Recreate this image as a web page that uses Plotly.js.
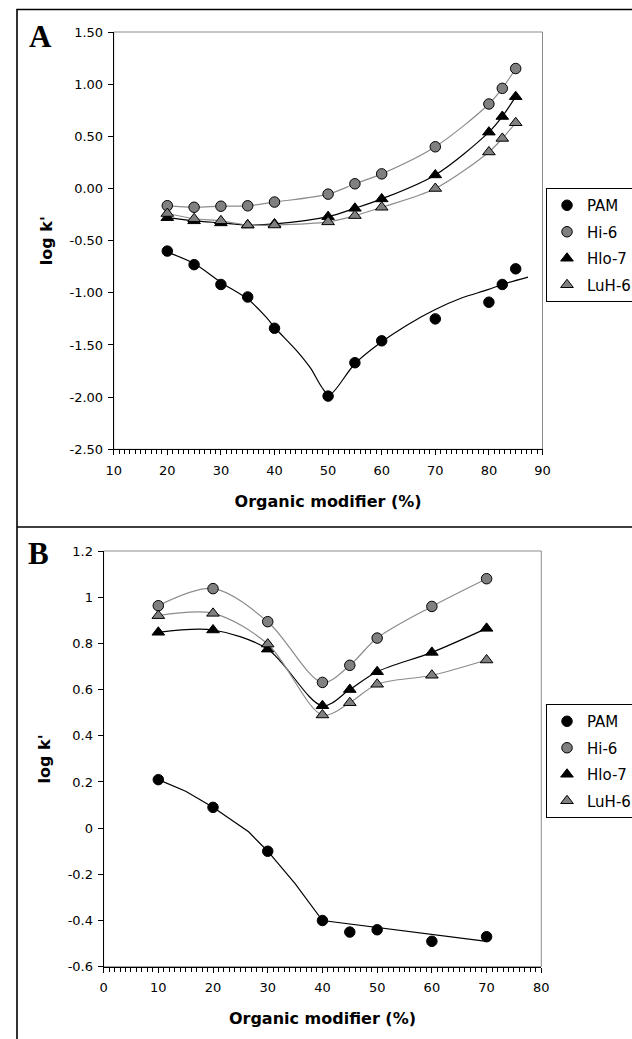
<!DOCTYPE html>
<html>
<head>
<meta charset="utf-8">
<script src="https://cdn.plot.ly/plotly-3.0.1.min.js"></script>
<style>
  html, body { margin: 0; padding: 0; background: #ffffff; overflow: hidden; width: 632px; height: 1039px; }
  #wrap { width: 632px; height: 1039px; overflow: hidden; position: relative; }
  #chart { width: 680px; height: 1039px; }
</style>
</head>
<body>
<div id="wrap"><div id="chart"></div></div>
<script>
// ---------- Data: panel A ----------
const seriesNames = ["PAM", "Hi-6", "Hlo-7", "LuH-6"];

const xA = [20, 25, 30, 35, 40, 50, 55, 60, 70, 80, 82.5, 85];
const pamA  = [-0.60, -0.73, -0.92, -1.04, -1.34, -1.99, -1.67, -1.46, -1.25, -1.09, -0.92, -0.77];
const hi6A  = [-0.165, -0.18, -0.17, -0.166, -0.13, -0.054, 0.045, 0.14, 0.40, 0.81, 0.96, 1.15];
const hlo7A = [-0.28, -0.31, -0.33, -0.35, -0.34, -0.27, -0.19, -0.10, 0.13, 0.54, 0.69, 0.88];
const luh6A = [-0.24, -0.29, -0.31, -0.35, -0.35, -0.32, -0.26, -0.18, 0.00, 0.35, 0.48, 0.63];

// PAM trend curve in panel A
const pamFitXA = [20, 25, 30, 35, 38.4, 40, 44.4, 46.7, 48.9, 50.2, 55, 60, 64.7, 70, 74.9, 79.8, 82.5, 87.3];
const pamFitYA = [-0.61, -0.72, -0.90, -1.06, -1.23, -1.33, -1.57, -1.72, -1.91, -1.98, -1.68, -1.47, -1.31, -1.16, -1.05, -0.97, -0.92, -0.85];

// ---------- Data: panel B ----------
const xB = [10, 20, 30, 40, 45, 50, 60, 70];
const pamB  = [0.21, 0.09, -0.10, -0.40, -0.45, -0.44, -0.49, -0.47];
const hi6B  = [0.963, 1.037, 0.894, 0.631, 0.705, 0.823, 0.96, 1.08];
const hlo7B = [0.848, 0.858, 0.775, 0.53, 0.60, 0.677, 0.761, 0.865];
const luh6B = [0.92, 0.93, 0.797, 0.49, 0.543, 0.623, 0.662, 0.728];

// PAM trend line in panel B
const pamFitXB = [10, 15, 20, 26.5, 30, 35, 40, 70];
const pamFitYB = [0.21, 0.16, 0.09, -0.016, -0.10, -0.24, -0.40, -0.49];

// ---------- Tick labels ----------
const yTickValsA = [-2.5, -2.0, -1.5, -1.0, -0.5, 0.0, 0.5, 1.0, 1.5];
const yTickTextA = ["-2.50", "-2.00", "-1.50", "-1.00", "-0.50", "0.00", "0.50", "1.00", "1.50"];
const xTickValsA = [10, 20, 30, 40, 50, 60, 70, 80, 90];
const yTickValsB = [-0.6, -0.4, -0.2, 0, 0.2, 0.4, 0.6, 0.8, 1.0, 1.2];
const yTickTextB = ["-0.6", "-0.4", "-0.2", "0", "0.2", "0.4", "0.6", "0.8", "1", "1.2"];
const xTickValsB = [0, 10, 20, 30, 40, 50, 60, 70, 80];

// ---------- Styles ----------
const W = 680, H = 1039;          // plotted canvas; the window shows the left 632 px
const px = v => v / W;
const py = v => 1 - v / H;
const GRAY = "#808080";
const LINEGRAY = "#8c8c8c";
const FONT = "DejaVu Sans, Liberation Sans, Arial, sans-serif";

const markerStyles = [
  {symbol: "circle", size: 10.5, color: "#000000", line: {color: "#000000", width: 1}},
  {symbol: "circle", size: 10.5, color: GRAY, line: {color: "#000000", width: 1}},
  {symbol: "triangle-up", size: 11, color: "#000000", line: {color: "#000000", width: 1}},
  {symbol: "triangle-up", size: 11, color: GRAY, line: {color: "#000000", width: 1}}
];
const lineColors = ["#000000", LINEGRAY, "#000000", LINEGRAY];

function panelTraces(xs, ys, fitX, fitY, fitShape, xa, ya, legendId) {
  const out = [];
  for (let i = 0; i < 4; i++) {
    const lx = i === 0 ? fitX : xs;
    const ly = i === 0 ? fitY : ys[i];
    out.push({
      x: lx, y: ly, xaxis: xa, yaxis: ya,
      type: "scatter", mode: "lines",
      line: {color: lineColors[i], width: 1.2, shape: i === 0 ? fitShape : "spline", smoothing: 0.9},
      showlegend: false, hoverinfo: "skip"
    });
    out.push({
      x: xs, y: ys[i], xaxis: xa, yaxis: ya,
      type: "scatter", mode: "markers", name: seriesNames[i],
      marker: markerStyles[i],
      legend: legendId, legendgroup: legendId + "g" + i,
      showlegend: true
    });
  }
  return out;
}

const data = [].concat(
  panelTraces(xA, [pamA, hi6A, hlo7A, luh6A], pamFitXA, pamFitYA, "spline", "x", "y", "legend"),
  panelTraces(xB, [pamB, hi6B, hlo7B, luh6B], pamFitXB, pamFitYB, "linear", "x2", "y2", "legend2")
);

const tickFont = {family: FONT, size: 13, color: "#000000"};
const titleFont = {family: FONT, size: 16, color: "#000000", weight: "bold"};

function xAxis(domain, range, tickvals, anchor) {
  return {
    domain: domain, range: range, anchor: anchor,
    tickmode: "array", tickvals: tickvals,
    ticks: "outside", ticklen: 5, tickwidth: 1, tickcolor: "#000000",
    minor: {dtick: 1, ticks: "outside", ticklen: 4, tickwidth: 1, tickcolor: "#000000", showgrid: false},
    showline: true, linecolor: "#000000", linewidth: 1,
    showgrid: false, zeroline: false, tickfont: tickFont,
    ticklabelstandoff: 4,
    title: {text: "Organic modifier (%)", font: titleFont, standoff: 18},
    fixedrange: true
  };
}
function yAxis(domain, range, tickvals, ticktext, anchor, standoff) {
  return {
    domain: domain, range: range, anchor: anchor,
    tickmode: "array", tickvals: tickvals, ticktext: ticktext,
    ticks: "outside", ticklen: 5, tickwidth: 1, tickcolor: "#000000",
    showline: true, linecolor: "#000000", linewidth: 1,
    showgrid: false, zeroline: false, tickfont: tickFont,
    ticklabelstandoff: 2,
    title: {text: "log k'", font: titleFont, standoff: standoff},
    fixedrange: true
  };
}

const legendBase = {
  xanchor: "left", yanchor: "top",
  bgcolor: "#ffffff", bordercolor: "#000000", borderwidth: 1,
  font: {family: FONT, size: 15, color: "#000000"},
  traceorder: "grouped", tracegroupgap: 4
};

const layout = {
  width: W, height: H,
  margin: {l: 0, r: 0, t: 0, b: 0},
  paper_bgcolor: "#ffffff", plot_bgcolor: "#ffffff",
  font: {family: FONT, size: 13, color: "#000000"},
  showlegend: true,
  xaxis: xAxis([px(113.7), px(542.5)], [10, 90], xTickValsA, "y"),
  yaxis: yAxis([py(449.3), py(32)], [-2.5, 1.5], yTickValsA, yTickTextA, "x", 12),
  xaxis2: xAxis([px(103.6), px(541.3)], [0, 80], xTickValsB, "y2"),
  yaxis2: yAxis([py(966.7), py(551)], [-0.6, 1.2], yTickValsB, yTickTextB, "x2", 13),
  legend: Object.assign({x: px(546), y: py(188)}, legendBase),
  legend2: Object.assign({x: px(546), y: py(704)}, legendBase),
  shapes: [
    // plot-area borders (gray)
    {type: "rect", xref: "x domain", yref: "y domain", x0: 0, x1: 1, y0: 0, y1: 1,
     line: {color: LINEGRAY, width: 1}, layer: "below"},
    {type: "rect", xref: "x2 domain", yref: "y2 domain", x0: 0, x1: 1, y0: 0, y1: 1,
     line: {color: LINEGRAY, width: 1}, layer: "below"},
    // outer figure frame and panel divider
    {type: "rect", xref: "paper", yref: "paper", x0: px(17), x1: px(675), y0: py(1045), y1: py(9.5),
     line: {color: "#000000", width: 1.6}},
    {type: "line", xref: "paper", yref: "paper", x0: px(17), x1: px(675), y0: py(527), y1: py(527),
     line: {color: "#000000", width: 1.6}}
  ],
  annotations: [
    {text: "<b>A</b>", xref: "paper", yref: "paper", x: px(40), y: py(37), xanchor: "center", yanchor: "middle",
     showarrow: false, font: {family: "Liberation Serif, Times New Roman, serif", size: 31, color: "#000000"}},
    {text: "<b>B</b>", xref: "paper", yref: "paper", x: px(38), y: py(553), xanchor: "center", yanchor: "middle",
     showarrow: false, font: {family: "Liberation Serif, Times New Roman, serif", size: 31, color: "#000000"}}
  ]
};

Plotly.newPlot("chart", data, layout, {staticPlot: true, displayModeBar: false});
</script>
</body>
</html>
